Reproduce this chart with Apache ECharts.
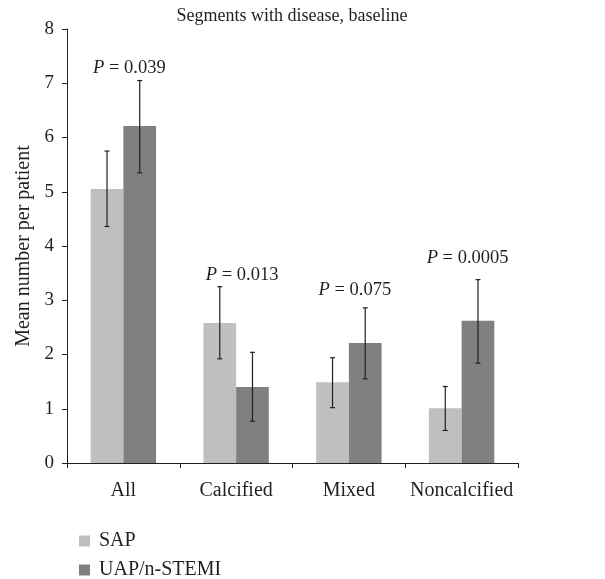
<!DOCTYPE html>
<html>
<head>
<meta charset="utf-8">
<script src="https://cdn.jsdelivr.net/npm/echarts@6/dist/echarts.min.js"></script>
<style>
  html, body { margin: 0; padding: 0; background: #fff; }
  #chart { width: 605px; height: 579px; }
</style>
</head>
<body>
<div id="chart"></div>
<script>
// categories and values
const categories = ['All', 'Calcified', 'Mixed', 'Noncalcified'];
const sapMean = [5.05, 2.58, 1.49, 1.01];
const sapLow = [4.36, 1.92, 1.02, 0.60];
const sapHigh = [5.75, 3.25, 1.94, 1.41];
const uapMean = [6.21, 1.40, 2.21, 2.62];
const uapLow = [5.35, 0.77, 1.55, 1.84];
const uapHigh = [7.05, 2.04, 2.86, 3.38];
const pValues = ['0.039', '0.013', '0.075', '0.0005'];
const pLabelAt = [7.28, 3.47, 3.19, 3.78];
const yTicks = [0, 1, 2, 3, 4, 5, 6, 7, 8];

const FONT = '"Liberation Serif", "DejaVu Serif", serif';
const INK = '#231f20';
const GAP = 0.42; // barCategoryGap

const chart = echarts.init(document.getElementById('chart'));

// error bar for one group; side -1 = left bar, +1 = right bar
function errorBars(low, high, side, name) {
  return {
    type: 'custom',
    name: name,
    z: 10,
    silent: true,
    data: categories.map((c, i) => [i, low[i], high[i]]),
    renderItem: (params, api) => {
      const idx = api.value(0);
      const band = api.size([1, 0])[0];
      const dx = side * band * (1 - GAP) / 4;
      const lo = api.coord([idx, api.value(1)]);
      const hi = api.coord([idx, api.value(2)]);
      const x = lo[0] + dx;
      const cap = 2.5;
      const style = { stroke: INK, lineWidth: 1.2 };
      return {
        type: 'group',
        children: [
          { type: 'line', shape: { x1: x, y1: lo[1], x2: x, y2: hi[1] }, style },
          { type: 'line', shape: { x1: x - cap, y1: lo[1], x2: x + cap, y2: lo[1] }, style },
          { type: 'line', shape: { x1: x - cap, y1: hi[1], x2: x + cap, y2: hi[1] }, style }
        ]
      };
    }
  };
}

const options = {
  animation: false,
  textStyle: { fontFamily: FONT, color: INK },
  title: {
    text: 'Segments with disease, baseline',
    left: 292,
    textAlign: 'center',
    top: 7,
    padding: 0,
    textStyle: { fontFamily: FONT, fontSize: 18, fontWeight: 'normal', color: INK }
  },
  legend: {
    orient: 'vertical',
    left: 79,
    top: 531,
    height: 70,
    padding: 0,
    itemWidth: 11,
    itemHeight: 11,
    itemGap: 9,
    icon: 'rect',
    data: ['SAP', 'UAP/n-STEMI'],
    textStyle: { fontFamily: FONT, fontSize: 20, color: INK, padding: [0, 0, 0, 4] }
  },
  grid: { left: 67, right: 87, top: 29, bottom: 116 },
  xAxis: {
    type: 'category',
    data: categories,
    axisLine: { lineStyle: { color: INK, width: 1 } },
    axisTick: { show: true, length: 5, interval: 0, lineStyle: { color: INK } },
    axisLabel: { fontFamily: FONT, fontSize: 20, color: INK, margin: 18, interval: 0 }
  },
  yAxis: {
    type: 'value',
    min: 0,
    max: 8,
    interval: 1,
    name: 'Mean number per patient',
    nameLocation: 'middle',
    nameGap: 32,
    nameTextStyle: { fontFamily: FONT, fontSize: 20, color: INK },
    axisLine: { show: true, lineStyle: { color: INK, width: 1 } },
    axisTick: { show: true, length: 5, lineStyle: { color: INK } },
    splitLine: { show: false },
    axisLabel: {
      fontFamily: FONT, fontSize: 19, color: INK, margin: 13,
      formatter: v => (yTicks.includes(v) ? String(v) : '')
    }
  },
  series: [
    {
      name: 'SAP',
      type: 'bar',
      data: sapMean,
      barGap: '0%',
      barCategoryGap: GAP * 100 + '%',
      itemStyle: { color: '#bfbfbf' }
    },
    {
      name: 'UAP/n-STEMI',
      type: 'bar',
      data: uapMean,
      itemStyle: { color: '#808080' }
    },
    errorBars(sapLow, sapHigh, -1, 'SAP'),
    errorBars(uapLow, uapHigh, 1, 'UAP/n-STEMI'),
    {
      type: 'custom',
      silent: true,
      z: 20,
      data: categories.map((c, i) => [i, pLabelAt[i]]),
      renderItem: (params, api) => {
        const p = api.coord([api.value(0), api.value(1)]);
        const i = params.dataIndex;
        return {
          type: 'text',
          x: p[0] + 6,
          y: p[1],
          style: {
            text: '{i|P} = ' + pValues[i],
            rich: { i: { fontStyle: 'italic', fontFamily: FONT, fontSize: 18.5, fill: INK } },
            fontFamily: FONT,
            fontSize: 18.5,
            fill: INK,
            align: 'center',
            verticalAlign: 'middle'
          }
        };
      }
    }
  ]
};

chart.setOption(options);
</script>
</body>
</html>
